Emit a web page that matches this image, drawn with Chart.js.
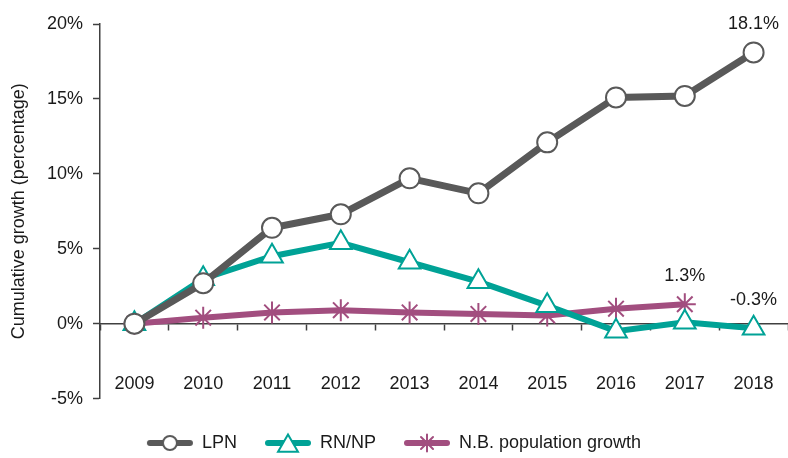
<!DOCTYPE html>
<html>
<head>
<meta charset="utf-8">
<script src="https://cdn.jsdelivr.net/npm/chart.js@4.4.0/dist/chart.umd.min.js"></script>
<style>
  html, body { margin: 0; padding: 0; background: #fff; overflow: hidden; }
  canvas { display: block; }
</style>
</head>
<body>
<canvas id="myChart" width="788" height="458"></canvas>
<script>
const years = ['2009', '2010', '2011', '2012', '2013', '2014', '2015', '2016', '2017', '2018']
const lpn = [0, 2.7, 6.4, 7.3, 9.7, 8.7, 12.1, 15.1, 15.2, 18.1]
const rnnp = [0, 3.0, 4.5, 5.4, 4.1, 2.8, 1.2, -0.5, 0.1, -0.3]
const nbPop = [0, 0.4, 0.75, 0.9, 0.75, 0.65, 0.55, 1.0, 1.3]
const yTicks = [-5, 0, 5, 10, 15, 20]

// which points get a value label: [dataset, index]
const valueLabels = [[0, 9], [2, 8], [1, 9]]

const grey = '#595959'
const teal = '#00a296'
const purple = '#a24e7f'
const textColor = '#1a1a1a'
const axisColor = '#404040'

Chart.defaults.font.family = "'Liberation Sans', Arial, sans-serif"
Chart.defaults.font.size = 18
Chart.defaults.color = textColor

// legend swatch: short line with the marker on it
function swatch(color, style, radius){
    const c = document.createElement('canvas')
    c.width = 48
    c.height = 28
    const g = c.getContext('2d')
    g.strokeStyle = color
    g.lineWidth = 6
    g.lineCap = 'round'
    g.beginPath()
    g.moveTo(4, 14)
    g.lineTo(44, 14)
    g.stroke()
    g.fillStyle = '#fff'
    g.lineWidth = 2
    Chart.helpers.drawPoint(g, {pointStyle: style, radius: radius, borderWidth: 2, rotation: 0}, 24, style === 'triangle' ? 17 : 14)
    return c
}

const labelPlugin = {
    id: 'valueLabels',
    afterDatasetsDraw(chart){
        const g = chart.ctx
        g.save()
        g.font = "18px 'Liberation Sans', Arial, sans-serif"
        g.fillStyle = textColor
        g.textAlign = 'center'
        g.textBaseline = 'middle'
        valueLabels.forEach(([d, i])=>{
            const pt = chart.getDatasetMeta(d).data[i]
            const v = chart.data.datasets[d].data[i]
            g.fillText(v.toFixed(1) + '%', pt.x, pt.y - 28)
        })
        g.restore()
    }
}

const ctx = document.getElementById('myChart')

new Chart(ctx, {
    type: 'line',
    data: {
        labels: years,
        datasets: [{
            label: 'LPN',
            data: lpn,
            borderColor: grey,
            borderWidth: 7,
            pointStyle: 'circle',
            pointRadius: 10,
            pointBorderWidth: 2,
            pointBorderColor: grey,
            pointBackgroundColor: '#fff',
            legendSwatch: swatch(grey, 'circle', 7)
        }, {
            label: 'RN/NP',
            data: rnnp,
            borderColor: teal,
            borderWidth: 6,
            pointStyle: 'triangle',
            pointRadius: 12.5,
            pointBorderWidth: 2,
            pointBorderColor: teal,
            pointBackgroundColor: '#fff',
            legendSwatch: swatch(teal, 'triangle', 11.5)
        }, {
            label: 'N.B. population growth',
            data: nbPop,
            borderColor: purple,
            borderWidth: 6,
            pointStyle: 'star',
            pointRadius: 11,
            pointBorderWidth: 2,
            pointBorderColor: purple,
            pointBackgroundColor: purple,
            legendSwatch: swatch(purple, 'star', 8.5)
        }]
    },
    options: {
        responsive: false,
        animation: false,
        layout: {
            autoPadding: false,
            padding: {top: 24, right: 0, bottom: -4, left: 0}
        },
        plugins: {
            tooltip: {enabled: false},
            legend: {
                position: 'bottom',
                // empty tiny title only pushes the row down a bit
                title: {display: true, text: ' ', font: {size: 2}, padding: {top: 5, bottom: 0}},
                labels: {
                    usePointStyle: true,
                    pointStyleWidth: 46,
                    padding: 28,
                    color: textColor,
                    generateLabels: (chart)=>chart.data.datasets.map((ds, i)=>({
                        text: ds.label,
                        pointStyle: ds.legendSwatch,
                        fontColor: textColor,
                        datasetIndex: i,
                        lineWidth: 0
                    }))
                }
            }
        },
        scales: {
            x: {
                position: {y: 0},
                offset: true,
                afterFit: (s)=>{ s.paddingLeft = 0; s.paddingRight = 0 },
                grid: {
                    offset: true,
                    drawOnChartArea: false,
                    tickLength: 6,
                    tickColor: axisColor,
                    tickWidth: 1.5
                },
                border: {color: axisColor, width: 1.5},
                ticks: {padding: 44, maxRotation: 0, autoSkip: false}
            },
            y: {
                min: -5,
                max: 20,
                afterFit: (s)=>{ s.width = 100 },
                afterBuildTicks: (s)=>{ s.ticks = yTicks.map(v=>({value: v})) },
                grid: {
                    drawOnChartArea: false,
                    tickLength: 7,
                    tickColor: axisColor,
                    tickWidth: 1.5
                },
                border: {color: axisColor, width: 1.5},
                ticks: {
                    padding: 10,
                    callback: (v)=>v + '%'
                },
                title: {
                    display: true,
                    text: 'Cumulative growth (percentage)',
                    color: textColor,
                    padding: {top: 8, bottom: 4}
                }
            }
        }
    },
    plugins: [labelPlugin]
});
</script>
</body>
</html>
